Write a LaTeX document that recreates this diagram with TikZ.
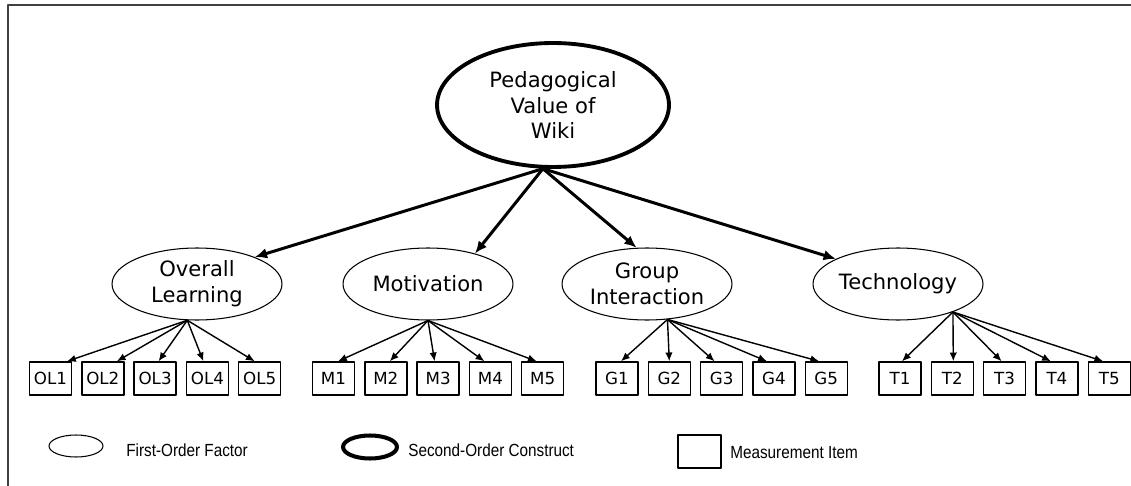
\documentclass[tikz,border=0pt]{standalone}
\usepackage{fontspec}
\setmainfont{DejaVu Sans}
\newfontfamily\legendfont[FakeStretch=0.87]{Liberation Sans}
\usetikzlibrary{shapes.geometric,calc,arrows.meta}
\tikzset{
	factor/.style={draw,ellipse,line width=0.6pt,minimum width=3.4cm,minimum height=1.44cm,inner sep=0pt,align=center,font=\fontsize{12}{15}\selectfont},
	construct/.style={draw,ellipse,line width=2.2pt,minimum width=4.64cm,minimum height=2.48cm,inner sep=0pt,align=center,font=\fontsize{12}{14.7}\selectfont},
	item/.style={draw,rectangle,line width=0.8pt,minimum width=0.84cm,minimum height=0.66cm,inner sep=0pt,font=\fontsize{9.5}{11}\selectfont},
	load/.style={-{Latex[length=7pt,width=6pt]},line width=1.7pt},
	itemload/.style={-{Latex[length=5pt,width=4.2pt]},line width=0.8pt},
	legend/.style={anchor=west,inner sep=0pt,font=\legendfont\fontsize{10}{12}\selectfont}
}
\begin{document}
\begin{tikzpicture}[x=0.02cm,y=-0.02cm,line join=round]
	\useasboundingbox (0,0) rectangle (1131,486);
	\draw[line width=1.3pt,black!75] (1131,5) -- (8,5) -- (8,486);
	% second-order construct and first-order factors
	\node[construct] (pv) at (553,105) {Pedagogical\\Value of\\Wiki};
	\node[factor] (ol) at (197,284) {Overall\\Learning};
	\node[factor] (mo) at (428,284) {Motivation};
	\node[factor] (gi) at (647,284) {Group\\Interaction};
	\node[factor] (te) at (898,284) {Technology};
	\coordinate (pvb) at (pv.-99);
	\draw[load] (pvb) -- (ol.25);
	\draw[load] (pvb) -- (mo.33);
	\draw[load] (pvb) -- (gi.106);
	\draw[load] (pvb) -- (te.158);
	% measurement items
	\foreach \g/\n/\xa/\ang/\offs in {OL/ol/50.5/-105/{16.5,14,3.5,-4,-5},
		M/mo/333.5/-90/{4.5,4,-3.5,-6,-6},
		G/gi/617/-60/{4,0,-7,-7,-7},
		T/te/900/-27/{2,1,-3,-6,-6}}{
		\coordinate (\n b) at (\n.\ang);
		\foreach \o [count=\i] in \offs{
			\node[item] (\n\i) at ({\xa+(\i-1)*52.3},378.5) {\g\i};
			\draw[itemload] (\n b) -- ($(\n\i.north)+(\o,0)$);
		}
	}
	% legend
	\node[draw,ellipse,line width=0.6pt,minimum width=1.08cm,minimum height=0.44cm] (lf) at (76,446) {};
	\node[legend] (lft) at (126,450) {First-Order Factor};
	\node[draw,ellipse,line width=2.3pt,minimum width=1.08cm,minimum height=0.46cm] (ls) at (370,447) {};
	\node[legend] (lst) at (408,450) {Second-Order Construct};
	\node[draw,rectangle,line width=0.8pt,minimum width=0.86cm,minimum height=0.66cm] (li) at (699.5,451.5) {};
	\node[legend] (lit) at (730,453) {Measurement Item};
\end{tikzpicture}
\end{document}
